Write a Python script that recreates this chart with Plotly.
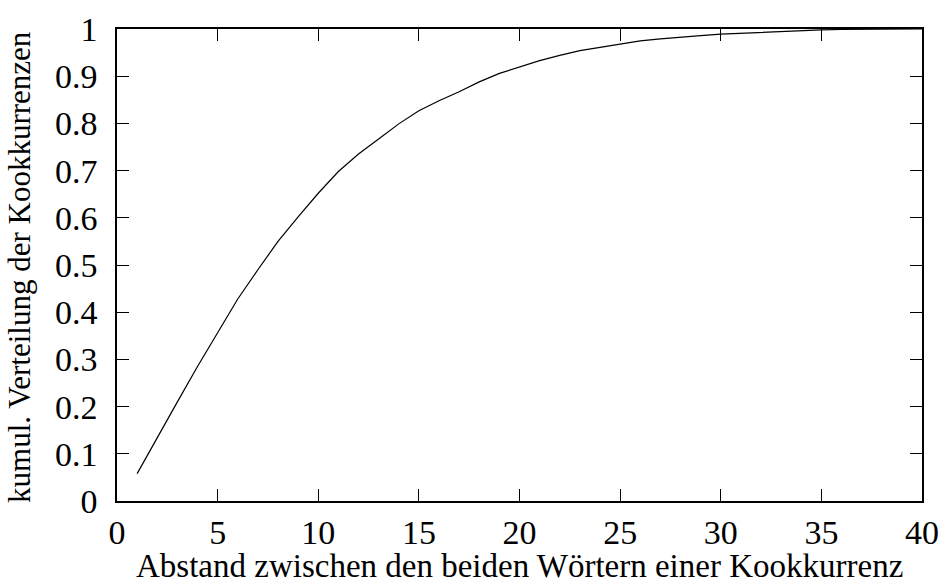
import plotly.graph_objects as go

abstand = list(range(1, 41))
kumul = [0.058, 0.135, 0.21, 0.285, 0.357, 0.428, 0.49, 0.55, 0.602, 0.652,
         0.698, 0.735, 0.767, 0.799, 0.827, 0.848, 0.867, 0.888, 0.906, 0.920,
         0.933, 0.944, 0.954, 0.961, 0.968, 0.975, 0.979, 0.983, 0.986, 0.989,
         0.991, 0.993, 0.995, 0.997, 0.998, 0.999, 0.9995, 1.0, 1.0, 1.0]
x_ticks = [0, 5, 10, 15, 20, 25, 30, 35, 40]
y_ticks = [0, 0.1, 0.2, 0.3, 0.4, 0.5, 0.6, 0.7, 0.8, 0.9, 1.0]
y_tick_text = ["0", "0.1", "0.2", "0.3", "0.4", "0.5", "0.6", "0.7", "0.8", "0.9", "1"]
x_title = "Abstand zwischen den beiden Wörtern einer Kookkurrenz"
y_title = "kumul. Verteilung der Kookkurrenzen"

FONT = "Liberation Serif"

fig = go.Figure()
fig.add_trace(go.Scatter(x=abstand, y=kumul, mode="lines",
                         line=dict(color="black", width=1.2),
                         showlegend=False))

axis_common = dict(showgrid=False, zeroline=False, showline=True,
                   linecolor="black", linewidth=1.5, mirror="ticks",
                   ticks="inside", ticklen=12, tickwidth=1, tickcolor="black",
                   automargin=False,
                   tickfont=dict(family=FONT, size=34, color="black"))

fig.update_xaxes(range=[0, 40], tickvals=x_ticks,
                 ticktext=[str(v) for v in x_ticks],
                 ticklabelstandoff=0,
                 **axis_common)
fig.update_yaxes(range=[0, 1], tickvals=y_ticks, ticktext=y_tick_text,
                 ticklabelstandoff=11,
                 **axis_common)

# axis titles placed as text annotations for exact positioning
fig.add_annotation(text=x_title, xref="paper", yref="paper",
                   x=0.5, y=-0.137, xanchor="center", yanchor="middle",
                   showarrow=False,
                   font=dict(family=FONT, size=33, color="black"))
fig.add_annotation(text=y_title, xref="paper", yref="paper",
                   x=-0.1205, y=0.496, xanchor="center", yanchor="middle",
                   textangle=-90, showarrow=False,
                   font=dict(family=FONT, size=31, color="black"))

fig.update_layout(width=944, height=583,
                  margin=dict(l=117, r=22, t=29, b=82),
                  paper_bgcolor="white", plot_bgcolor="white",
                  font=dict(family=FONT, color="black"))

fig.write_html("out.html")
